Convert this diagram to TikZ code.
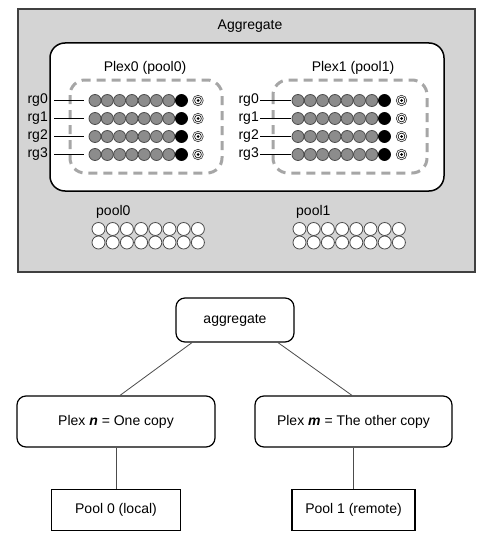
\documentclass[tikz,border=0pt]{standalone}
\usepackage{fontspec}
\setmainfont{Liberation Sans}
\usetikzlibrary{positioning}

\begin{document}
\begin{tikzpicture}[x=1pt,y=-1pt]
        \tikzstyle{every node}=[font=\fontsize{14}{16}\selectfont, inner sep=0pt]
        \tikzstyle{disk}=[circle, draw=black!70, fill=black!45, line width=0.8pt, minimum size=12pt]
        \tikzstyle{parity}=[circle, draw=black, fill=black, line width=0.8pt, minimum size=12pt]
        \tikzstyle{spare}=[circle, draw=black!80, fill=white, line width=0.6pt, minimum size=10.5pt]
        \tikzstyle{freedisk}=[circle, draw=black!70, fill=white, line width=0.8pt, minimum size=13pt]
        \tikzstyle{plexbox}=[black!35, line width=3pt, dash pattern=on 9pt off 6pt, rounded corners=15pt]
        \tikzstyle{box}=[draw, line width=1.2pt, rounded corners=9pt]
        \tikzstyle{link}=[black!70, line width=0.8pt]

        \useasboundingbox (0,0) rectangle (483,543);

        % aggregate picture
        \draw[draw=black!75, fill=black!17, line width=1.5pt] (18,9) rectangle (475,272);
        \node (aggtitle) at (250,26) {Aggregate};
        \draw[fill=white, line width=1.5pt, rounded corners=15pt] (50,43) rectangle (444,191);

        \node (plex0lbl) at (145,68) {Plex0 (pool0)};
        \node (plex1lbl) at (353,68) {Plex1 (pool1)};
        \draw[plexbox] (70,80) rectangle (222,173);
        \draw[plexbox] (273,80) rectangle (427,173);

        \foreach \r/\y in {0/100.5,1/118.5,2/136.5,3/154.5} {
            % plex0
            \foreach \c in {0,...,6}
                \node[disk] (a\r\c) at ({95+12.3*\c},\y) {};
            \node[parity] (a\r7) at (181.5,\y) {};
            \node[spare] (a\r8) at (198,\y) {};
            \draw[line width=0.6pt] (a\r8.center) circle (3.4pt);
            \fill (a\r8.center) circle (1.5pt);
            \node[anchor=east] (rga\r) at (48,\y) {rg\r};
            \draw[line width=0.8pt] ([xshift=6pt]rga\r.east) -- ([xshift=-5pt]a\r0.west);
            % plex1
            \foreach \c in {0,...,6}
                \node[disk] (b\r\c) at ({298+12.3*\c},\y) {};
            \node[parity] (b\r7) at (384.5,\y) {};
            \node[spare] (b\r8) at (401.5,\y) {};
            \draw[line width=0.6pt] (b\r8.center) circle (3.4pt);
            \fill (b\r8.center) circle (1.5pt);
            \node[anchor=east] (rgb\r) at (259,\y) {rg\r};
            \draw[line width=0.8pt] ([xshift=1pt]rgb\r.east) -- ([xshift=-1pt]b\r0.west);
        }

        \node[anchor=west] (pool0lbl) at (96,212) {pool0};
        \node[anchor=west] (pool1lbl) at (296,212) {pool1};
        \foreach \r/\y in {0/229,1/242.5}
            \foreach \c in {0,...,7} {
                \node[freedisk] (p\r\c) at ({98.5+14.2*\c},\y) {};
                \node[freedisk] (q\r\c) at ({299.5+14.2*\c},\y) {};
            }

        % plex tree
        \node[box, minimum width=118pt, minimum height=44pt] (agg) at (235,320) {aggregate};
        \node[box, minimum width=198pt, minimum height=51pt] (plexn) at (116,421.5) {Plex \textbf{\textit{n}} = One copy};
        \node[box, minimum width=197pt, minimum height=51pt] (plexm) at (353.5,421.5) {Plex \textbf{\textit{m}} = The other copy};
        \node[draw, line width=1.2pt, minimum width=129pt, minimum height=41pt, below=41pt of plexn] (pool0) {Pool 0 (local)};
        \node[draw, line width=1.2pt, minimum width=123pt, minimum height=41pt, below=41pt of plexm] (pool1) {Pool 1 (remote)};

        \draw[link] ([xshift=-43pt]agg.south) -- ([xshift=4pt]plexn.north);
        \draw[link] ([xshift=43pt]agg.south) -- ([xshift=-1.5pt]plexm.north);
        \draw[link] (plexn.south) -- (pool0.north);
        \draw[link] (plexm.south) -- (pool1.north);

\end{tikzpicture}
\end{document}
